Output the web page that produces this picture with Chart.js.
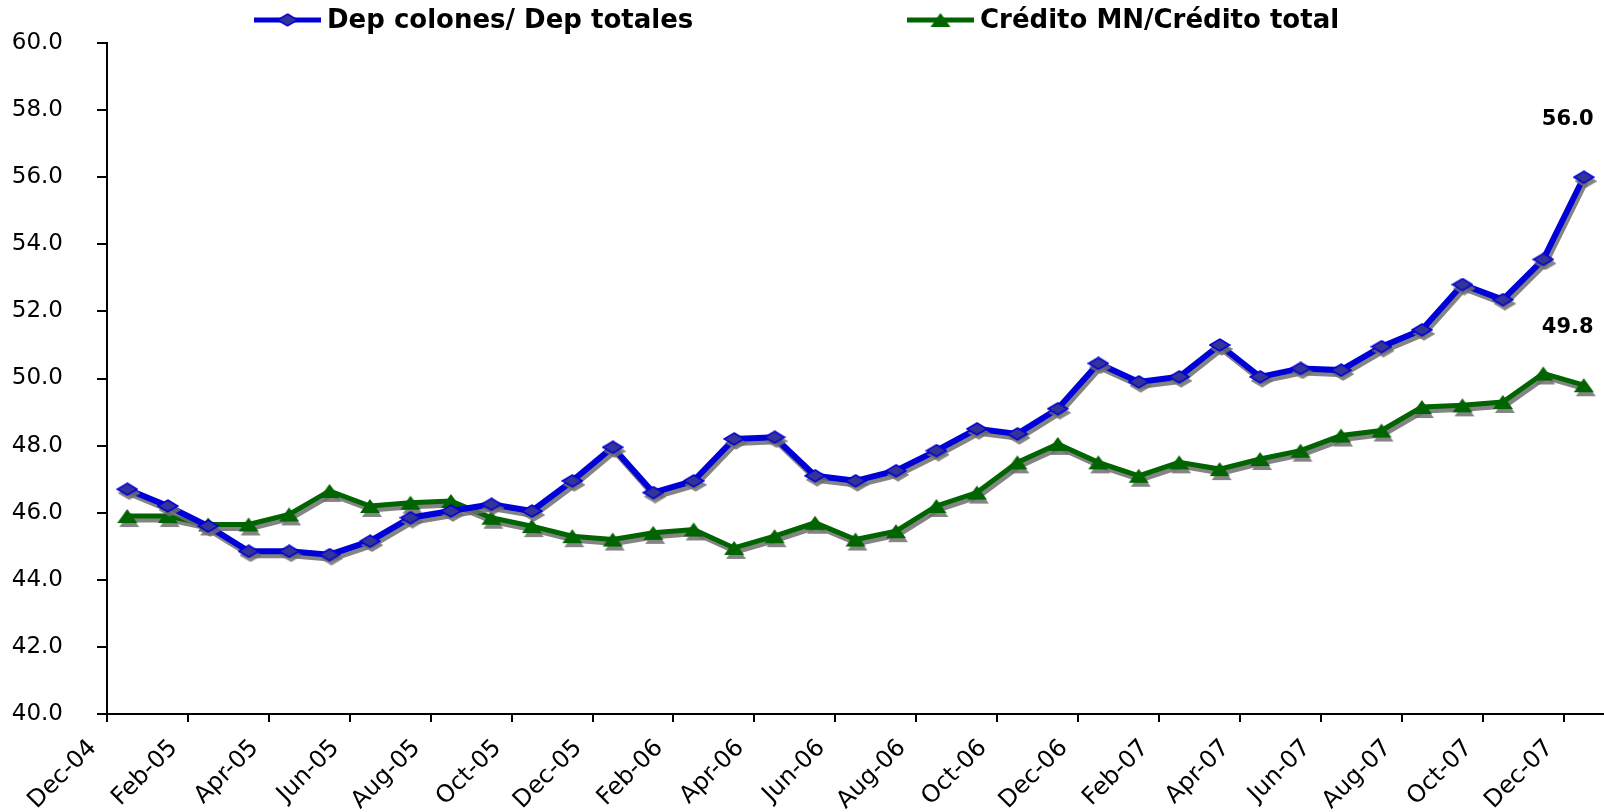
<!DOCTYPE html>
<html>
<head>
<meta charset="utf-8">
<script src="https://cdn.jsdelivr.net/npm/chart.js@4.4.0/dist/chart.umd.min.js"></script>
<style>
  html, body { margin: 0; padding: 0; background: #fff; }
  #wrap { width: 1604px; height: 812px; }
</style>
</head>
<body>
<div id="wrap"><canvas id="chart" width="1604" height="812"></canvas></div>
<script>
// Etiquetas del eje X (cada dos meses)
const tickLabels = ['Dec-04', 'Feb-05', 'Apr-05', 'Jun-05', 'Aug-05', 'Oct-05', 'Dec-05',
  'Feb-06', 'Apr-06', 'Jun-06', 'Aug-06', 'Oct-06', 'Dec-06', 'Feb-07', 'Apr-07',
  'Jun-07', 'Aug-07', 'Oct-07', 'Dec-07'];

// Series mensuales, dic-04 a dic-07
const depColones = [46.7, 46.2, 45.6, 44.85, 44.85, 44.75, 45.15, 45.85, 46.05, 46.25,
  46.05, 46.95, 47.95, 46.6, 46.95, 48.2, 48.25, 47.1, 46.95, 47.25, 47.85, 48.5, 48.35,
  49.1, 50.45, 49.9, 50.05, 51.0, 50.05, 50.3, 50.25, 50.95, 51.45, 52.8, 52.35, 53.55, 56.0];
const creditoMN = [45.9, 45.9, 45.65, 45.65, 45.95, 46.65, 46.2, 46.3, 46.35, 45.85,
  45.6, 45.3, 45.2, 45.4, 45.5, 44.95, 45.3, 45.7, 45.2, 45.45, 46.2, 46.6, 47.5,
  48.05, 47.5, 47.1, 47.5, 47.3, 47.6, 47.85, 48.3, 48.45, 49.15, 49.2, 49.3, 50.15, 49.8];

const seriesNames = ['Dep colones/ Dep totales', 'Crédito MN/Crédito total'];

const FONT = '"DejaVu Sans", Verdana, sans-serif';
const BLUE = '#0000d8';
const GREEN = '#006400';

// Marcadores propios
function makeDiamond() {
  const c = document.createElement('canvas');
  c.width = 22; c.height = 14;
  const g = c.getContext('2d');
  g.beginPath();
  g.moveTo(11, 1); g.lineTo(21, 7); g.lineTo(11, 13); g.lineTo(1, 7); g.closePath();
  g.fillStyle = '#333399'; g.fill();
  g.strokeStyle = BLUE; g.lineWidth = 1.5; g.stroke();
  return c;
}
function makeTriangle() {
  const c = document.createElement('canvas');
  c.width = 22; c.height = 16;
  const g = c.getContext('2d');
  g.beginPath();
  g.moveTo(11, 1); g.lineTo(21, 15); g.lineTo(1, 15); g.closePath();
  g.fillStyle = GREEN; g.fill();
  return c;
}
const diamond = makeDiamond();
const triangle = makeTriangle();

const toPoints = arr => arr.map((v, i) => ({ x: i + 0.5, y: v }));

// Sombra gris bajo las líneas
const shadowPlugin = {
  id: 'shadow',
  beforeDatasetDraw(chart) {
    const ctx = chart.ctx;
    ctx.save();
    ctx.shadowColor = 'rgba(110,110,110,0.85)';
    ctx.shadowOffsetX = 2;
    ctx.shadowOffsetY = 4;
    ctx.shadowBlur = 0;
  },
  afterDatasetDraw(chart) {
    chart.ctx.restore();
  }
};

// Leyenda dibujada a mano y etiquetas del último dato
const extrasPlugin = {
  id: 'extras',
  afterDraw(chart) {
    const ctx = chart.ctx;
    ctx.save();
    const legends = [
      { x0: 254, x1: 321, color: BLUE, marker: diamond, tx: 327 },
      { x0: 907, x1: 974, color: GREEN, marker: triangle, tx: 980 }
    ];
    legends.forEach((l, i) => {
      ctx.beginPath();
      ctx.moveTo(l.x0, 20); ctx.lineTo(l.x1, 20);
      ctx.strokeStyle = l.color; ctx.lineWidth = 5; ctx.stroke();
      const mx = (l.x0 + l.x1) / 2;
      ctx.drawImage(l.marker, mx - l.marker.width / 2, 20 - l.marker.height / 2);
      ctx.fillStyle = '#000';
      ctx.font = 'bold 26px ' + FONT;
      ctx.textBaseline = 'middle';
      ctx.textAlign = 'left';
      ctx.fillText(seriesNames[i], l.tx, 21);
    });

    ctx.font = 'bold 21px ' + FONT;
    ctx.textAlign = 'center';
    chart.data.datasets.forEach((ds, i) => {
      const meta = chart.getDatasetMeta(i);
      const pt = meta.data[meta.data.length - 1];
      const v = ds.data[ds.data.length - 1].y;
      ctx.fillText(v.toFixed(1), pt.x - 16, pt.y - 58);
    });
    ctx.restore();
  }
};

new Chart(document.getElementById('chart'), {
  type: 'line',
  data: {
    datasets: [
      {
        label: seriesNames[0],
        data: toPoints(depColones),
        borderColor: BLUE,
        borderWidth: 6,
        pointStyle: diamond,
        pointRadius: 8,
        tension: 0,
        clip: false
      },
      {
        label: seriesNames[1],
        data: toPoints(creditoMN),
        borderColor: GREEN,
        borderWidth: 5,
        pointStyle: triangle,
        pointRadius: 8,
        tension: 0,
        clip: false
      }
    ]
  },
  options: {
    responsive: false,
    animation: false,
    layout: { autoPadding: false, padding: { top: 43, right: 0, left: 0, bottom: 0 } },
    plugins: {
      legend: { display: false },
      tooltip: { enabled: false }
    },
    scales: {
      x: {
        type: 'linear',
        min: 0,
        max: 37,
        afterBuildTicks: scale => {
          scale.ticks = tickLabels.map((_, i) => ({ value: i * 2 }));
        },
        afterFit: scale => {
          scale.height = 98;
          scale.paddingRight = 0;
        },
        ticks: {
          autoSkip: false,
          minRotation: 45,
          maxRotation: 45,
          color: '#000',
          font: { family: FONT, size: 24 },
          padding: 12,
          labelOffset: -14,
          callback: v => tickLabels[v / 2]
        },
        grid: {
          drawOnChartArea: false,
          drawTicks: true,
          tickLength: 8,
          color: '#000',
          lineWidth: 2
        },
        border: { display: true, color: '#000', width: 2 }
      },
      y: {
        min: 40,
        max: 60,
        afterFit: scale => {
          scale.width = 107;
          scale.paddingTop = 0;
        },
        ticks: {
          stepSize: 2,
          color: '#000',
          font: { family: FONT, size: 23 },
          padding: 34,
          callback: v => v.toFixed(1)
        },
        grid: {
          drawOnChartArea: false,
          drawTicks: true,
          tickLength: 10,
          color: '#000',
          lineWidth: 2
        },
        border: { display: true, color: '#000', width: 2 }
      }
    }
  },
  plugins: [shadowPlugin, extrasPlugin]
});
</script>
</body>
</html>
